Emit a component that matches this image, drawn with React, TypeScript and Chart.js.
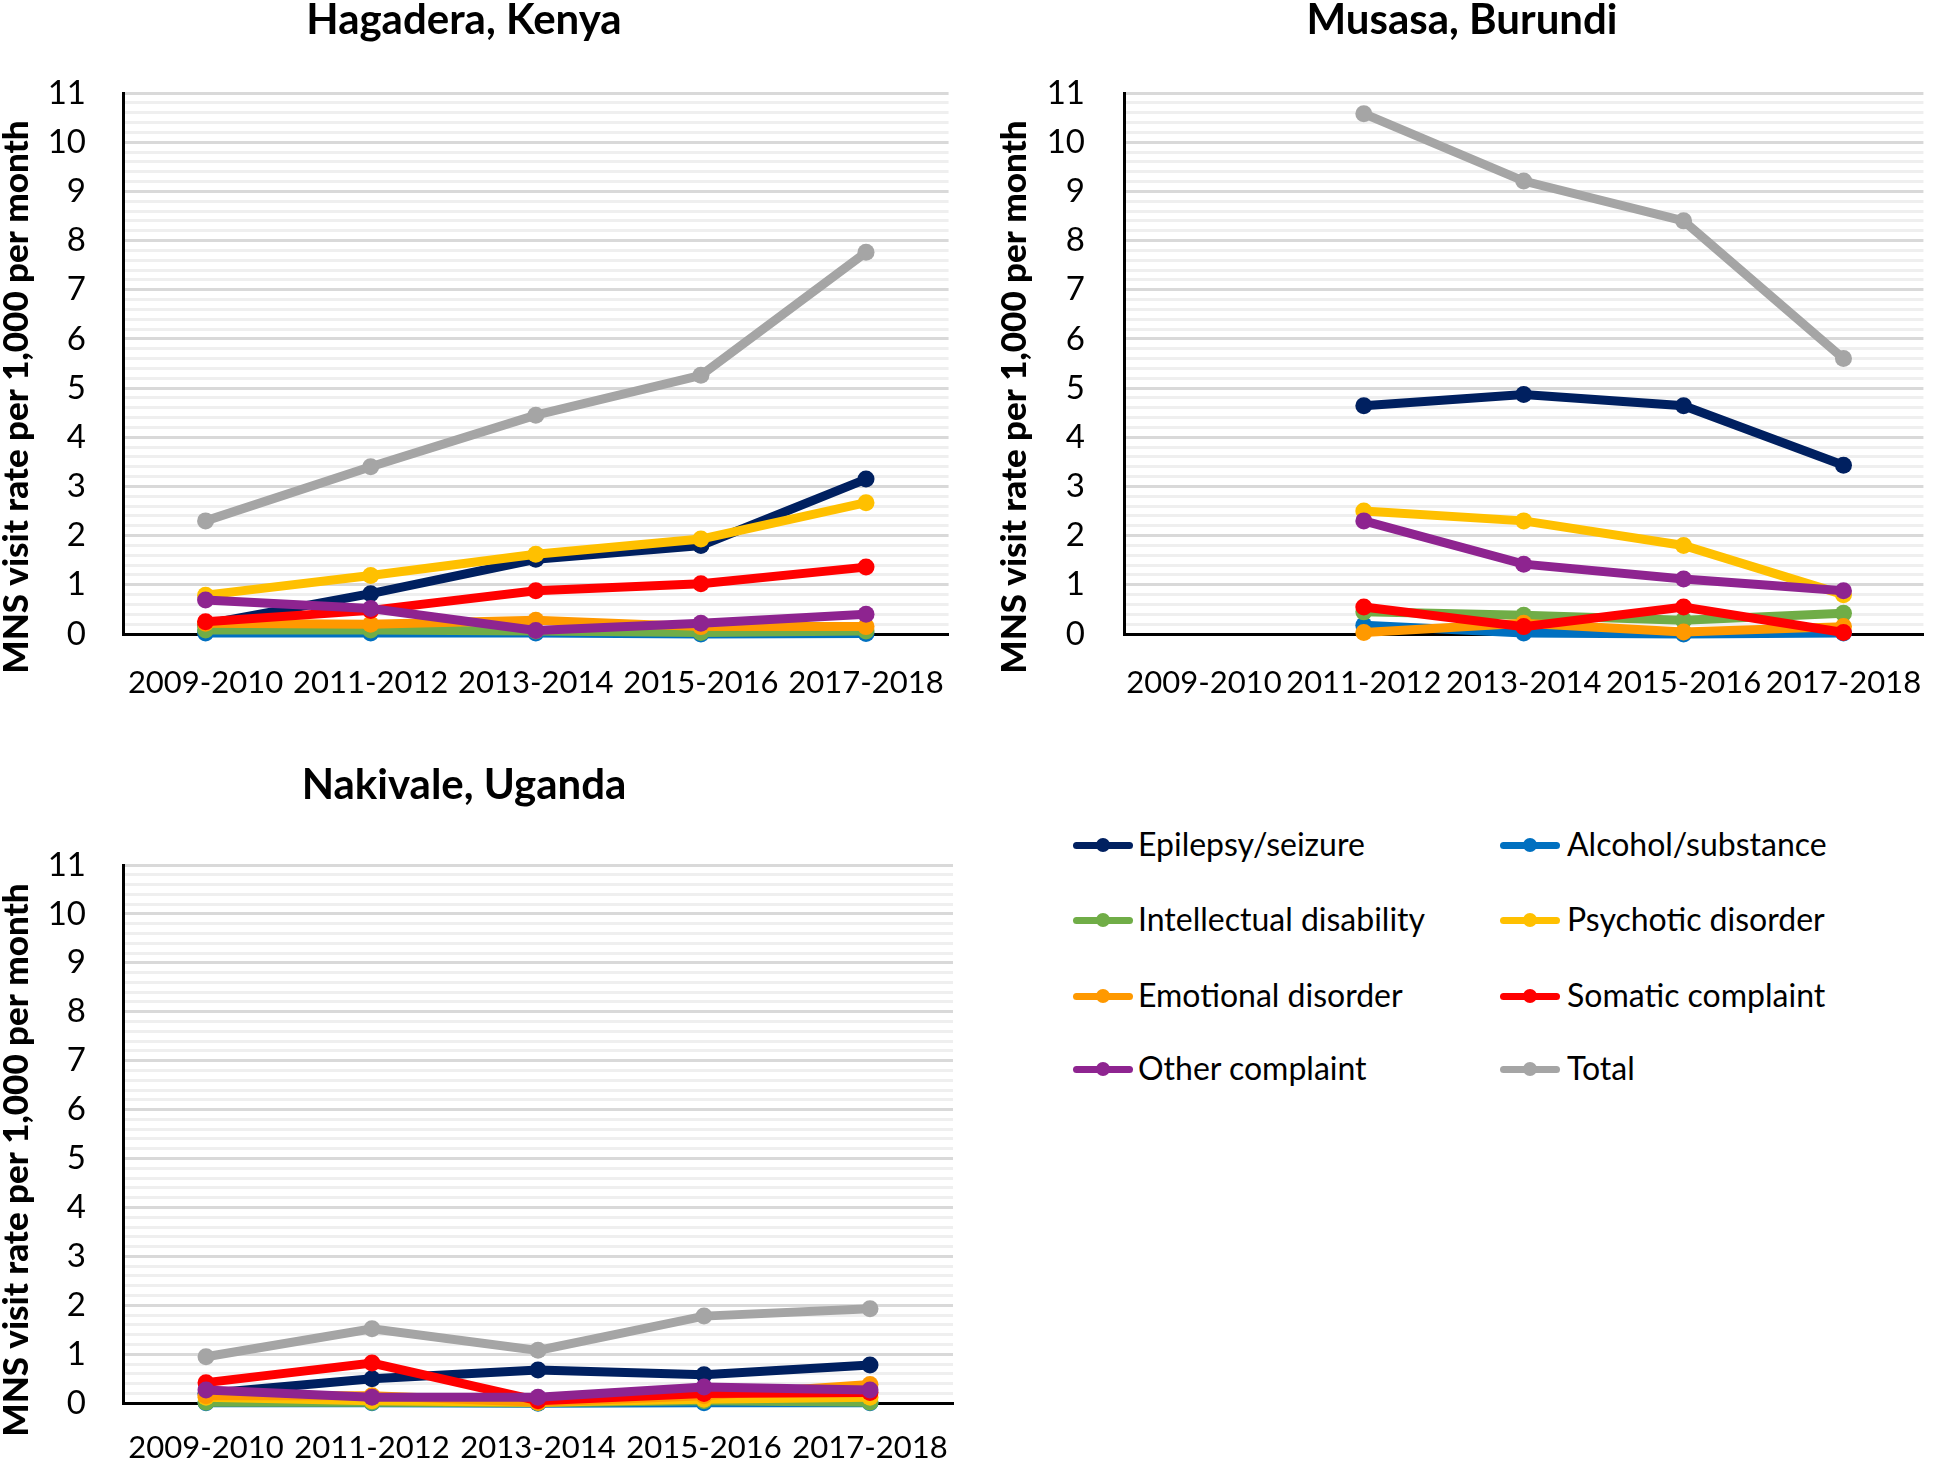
import React, { useEffect, useRef } from 'react';
import { Chart, registerables } from 'chart.js';
Chart.register(...registerables);

const FONT = "Lato, 'Liberation Sans', Arial, sans-serif";

const categories = ['2009-2010', '2011-2012', '2013-2014', '2015-2016', '2017-2018'];
const seriesNames = [
  'Epilepsy/seizure', 'Alcohol/substance', 'Intellectual disability', 'Psychotic disorder',
  'Emotional disorder', 'Somatic complaint', 'Other complaint', 'Total',
];
const seriesColors = ['#002060', '#0070C0', '#70AD47', '#FFC000', '#FF9900', '#FF0000', '#8E2490', '#A5A5A5'];

const yAxisTitle = 'MNS visit rate per 1,000 per month';
const yMax = 11;
const yMinorStep = 0.2;

// Hagadera, Kenya
const hagEpilepsy = [0.2, 0.82, 1.52, 1.8, 3.15];
const hagAlcohol = [0.02, 0.02, 0.02, 0.0, 0.01];
const hagIntellectual = [0.08, 0.08, 0.06, 0.03, 0.06];
const hagPsychotic = [0.79, 1.19, 1.62, 1.93, 2.67];
const hagEmotional = [0.22, 0.2, 0.28, 0.15, 0.15];
const hagSomatic = [0.25, 0.48, 0.88, 1.02, 1.36];
const hagOther = [0.69, 0.52, 0.07, 0.22, 0.4];
const hagTotal = [2.3, 3.4, 4.45, 5.26, 7.76];

// Musasa, Burundi
const musEpilepsy = [null, 4.64, 4.87, 4.64, 3.43];
const musAlcohol = [null, 0.18, 0.02, 0.0, 0.02];
const musIntellectual = [null, 0.45, 0.38, 0.28, 0.42];
const musPsychotic = [null, 2.5, 2.3, 1.8, 0.8];
const musEmotional = [null, 0.03, 0.22, 0.04, 0.15];
const musSomatic = [null, 0.55, 0.15, 0.55, 0.03];
const musOther = [null, 2.3, 1.42, 1.12, 0.88];
const musTotal = [null, 10.58, 9.21, 8.4, 5.6];

// Nakivale, Uganda
const nakEpilepsy = [0.2, 0.5, 0.68, 0.58, 0.78];
const nakAlcohol = [0.01, 0.01, 0.0, 0.01, 0.01];
const nakIntellectual = [0.02, 0.02, 0.01, 0.05, 0.02];
const nakPsychotic = [0.12, 0.05, 0.02, 0.08, 0.12];
const nakEmotional = [0.15, 0.15, 0.02, 0.15, 0.38];
const nakSomatic = [0.42, 0.82, 0.05, 0.2, 0.22];
const nakOther = [0.27, 0.12, 0.12, 0.33, 0.27];
const nakTotal = [0.95, 1.52, 1.08, 1.78, 1.93];

const hagSeries = [hagEpilepsy, hagAlcohol, hagIntellectual, hagPsychotic, hagEmotional, hagSomatic, hagOther, hagTotal];
const musSeries = [musEpilepsy, musAlcohol, musIntellectual, musPsychotic, musEmotional, musSomatic, musOther, musTotal];
const nakSeries = [nakEpilepsy, nakAlcohol, nakIntellectual, nakPsychotic, nakEmotional, nakSomatic, nakOther, nakTotal];

const isInt = (v: number) => Math.abs(v - Math.round(v)) < 1e-6;

const decorPlugin = {
  id: 'decor',
  afterDraw(chart: any, _args: any, opts: any) {
    const ctx = chart.ctx;
    ctx.save();
    ctx.fillStyle = '#000';
    ctx.textAlign = 'center';
    ctx.textBaseline = 'middle';
    ctx.font = `bold 42px ${FONT}`;
    ctx.fillText(opts.title, opts.titleX, opts.titleY);
    ctx.translate(opts.yTitleX, opts.yTitleY);
    ctx.rotate(-Math.PI / 2);
    ctx.font = `900 35px ${FONT}`;
    ctx.fillText(yAxisTitle, 0, 0);
    ctx.restore();
  },
};

type Panel = {
  title: string; series: (number | null)[][];
  left: number; top: number; width: number; height: number;
  yW: number; padR: number; padT: number; xH: number; xPad: number;
  titleX: number; titleY: number; yTitleX: number; yTitleY: number; yTickPad: number;
};

function ChartPanel({ p }: { p: Panel }) {
  const ref = useRef<HTMLCanvasElement | null>(null);
  useEffect(() => {
    if (!ref.current) return;
    const chart = new Chart(ref.current, {
      type: 'line',
      data: {
        labels: categories,
        datasets: p.series.map((vals, i) => ({
          label: seriesNames[i],
          data: vals,
          borderColor: seriesColors[i],
          backgroundColor: seriesColors[i],
          pointBackgroundColor: seriesColors[i],
          pointBorderWidth: 0,
          pointRadius: 8.5,
          borderWidth: 9,
          tension: 0,
          clip: false,
          order: seriesNames.length - 1 - i,
        })),
      },
      options: {
        responsive: false,
        animation: false,
        layout: { padding: { left: 0, right: p.padR, top: p.padT, bottom: 0 } },
        plugins: {
          legend: { display: false },
          tooltip: { enabled: false },
          title: { display: false },
          decor: {
            title: p.title, titleX: p.titleX, titleY: p.titleY,
            yTitleX: p.yTitleX, yTitleY: p.yTitleY,
          },
        } as any,
        scales: {
          x: {
            offset: true,
            grid: { display: true, color: 'rgba(0,0,0,0)', drawTicks: false },
            border: { display: true, color: '#000', width: 3 },
            ticks: {
              autoSkip: false, maxRotation: 0, minRotation: 0, padding: p.xPad,
              color: '#000', font: { family: FONT, size: 31 },
            },
            afterFit: (s: any) => { s.height = p.xH; },
          },
          y: {
            min: 0, max: yMax,
            grid: {
              drawTicks: false,
              color: (c: any) => (isInt(c.tick.value) ? '#d9d9d9' : '#efefef'),
              lineWidth: 3,
            },
            border: { display: true, color: '#000', width: 3 },
            ticks: {
              stepSize: yMinorStep, autoSkip: false, padding: p.yTickPad,
              color: '#000', font: { family: FONT, size: 33 },
              callback: (v: any) => (isInt(Number(v)) ? String(Math.round(Number(v))) : ''),
            },
            afterFit: (s: any) => { s.width = p.yW; },
          },
        },
      },
      plugins: [decorPlugin],
    } as any);
    return () => chart.destroy();
  }, [p]);
  return (
    <canvas
      ref={ref}
      width={p.width}
      height={p.height}
      style={{ position: 'absolute', left: p.left, top: p.top, width: p.width, height: p.height }}
    />
  );
}

const panels: Panel[] = [
  {
    title: 'Hagadera, Kenya', series: hagSeries, left: 0, top: 0, width: 976, height: 720,
    yW: 123, padR: 23, padT: 93, xH: 86, xPad: 30, titleX: 464, titleY: 20, yTitleX: 17, yTitleY: 397, yTickPad: 37,
  },
  {
    title: 'Musasa, Burundi', series: musSeries, left: 976, top: 0, width: 976, height: 720,
    yW: 148, padR: 3, padT: 93, xH: 86, xPad: 30, titleX: 486, titleY: 20, yTitleX: 39, yTitleY: 397, yTickPad: 39,
  },
  {
    title: 'Nakivale, Uganda', series: nakSeries, left: 0, top: 740, width: 976, height: 720,
    yW: 123, padR: 23, padT: 125, xH: 56, xPad: 26, titleX: 464, titleY: 45, yTitleX: 17, yTitleY: 420, yTickPad: 37,
  },
];

const legendCols = [
  { lineLeft: 1073, textLeft: 1138 },
  { lineLeft: 1500, textLeft: 1567 },
];
const legendRows = [845, 920, 996, 1069];

function Legend() {
  return (
    <>
      {seriesNames.map((name, i) => {
        const col = legendCols[i % 2];
        const y = legendRows[Math.floor(i / 2)];
        return (
          <div key={name}>
            <div style={{
              position: 'absolute', left: col.lineLeft, top: y - 3.5, width: 60, height: 7,
              borderRadius: 3.5, background: seriesColors[i],
            }} />
            <div style={{
              position: 'absolute', left: col.lineLeft + 23, top: y - 7, width: 14, height: 14,
              borderRadius: '50%', background: seriesColors[i],
            }} />
            <div style={{
              position: 'absolute', left: col.textLeft, top: y - 21, height: 40, lineHeight: '40px',
              fontFamily: FONT, fontSize: 32, color: '#000', whiteSpace: 'nowrap',
            }}>{name}</div>
          </div>
        );
      })}
    </>
  );
}

export default function App() {
  return (
    <div style={{ position: 'absolute', left: 0, top: 0, width: 1952, height: 1460, background: '#fff', overflow: 'hidden' }}>
      {panels.map((p) => <ChartPanel key={p.title} p={p} />)}
      <Legend />
    </div>
  );
}
